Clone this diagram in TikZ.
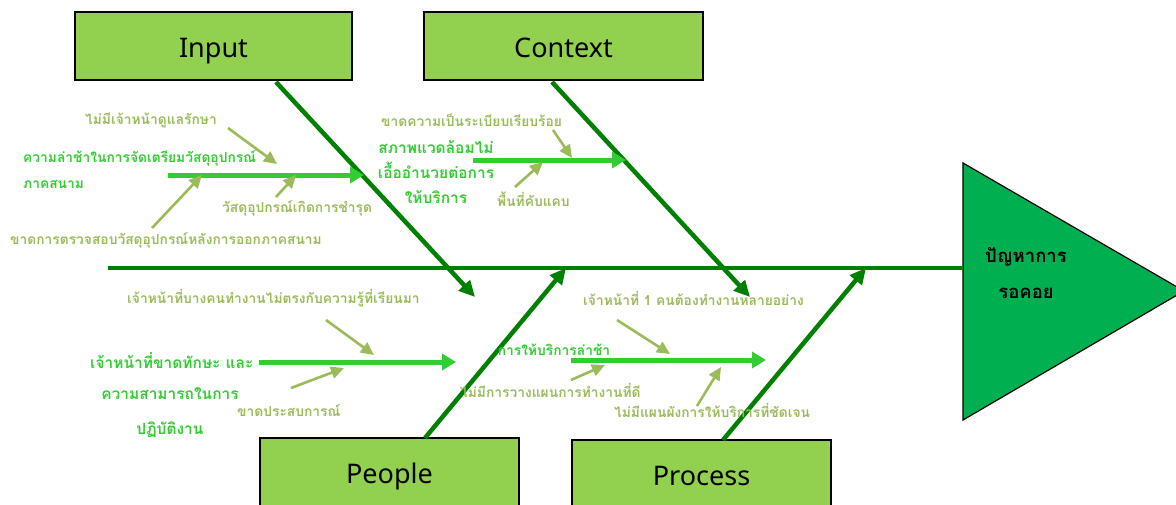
\documentclass[tikz,border=0pt]{standalone}
\usepackage{fontspec}
\setmainfont{Noto Sans}
\newfontfamily\thaifont[Script=Thai]{Loma}
\usetikzlibrary{arrows.meta,positioning,calc}
\definecolor{boxgreen}{HTML}{92D050}
\definecolor{bonegreen}{HTML}{008000}
\definecolor{limegreen}{HTML}{33CC33}
\definecolor{olivegreen}{HTML}{9BBB59}
\definecolor{headgreen}{HTML}{00B050}

\begin{document}
\begin{tikzpicture}[
  x=1pt,y=-1pt,
  font=\thaifont\fontsize{13.6}{16}\selectfont,
  >=Stealth,
  cat/.style={draw=black,line width=1.2pt,fill=boxgreen,minimum height=68pt,text height=28pt,text depth=6pt,font=\fontsize{27}{30}\selectfont},
  bone/.style={draw=bonegreen,line width=4.5pt,-{Triangle[length=16pt,width=15pt]}},
  sub/.style={draw=limegreen,line width=5pt,-{Triangle[length=14pt,width=16pt]}},
  cause/.style={draw=olivegreen,line width=2.6pt,-{Triangle[length=13pt,width=12pt]}},
  main/.style={text=limegreen,font=\thaifont\bfseries\fontsize{13.8}{16}\selectfont,inner sep=0pt},
  bigmain/.style={main,font=\thaifont\bfseries\fontsize{15.5}{18}\selectfont},
  minor/.style={text=olivegreen,font=\thaifont\bfseries\fontsize{13.8}{16}\selectfont,inner sep=0pt,anchor=west},
]
\useasboundingbox (0,0) rectangle (1176,504);

% head of the fish
\draw[fill=headgreen,line width=1.2pt] (963,163) -- (1184,291) -- (963,420) -- cycle;
\node[font=\thaifont\bfseries\fontsize{18.5}{22}\selectfont,align=center] (effect) at (1026,273)
  {ปัญหาการ\\[14pt]รอคอย};

% spine
\coordinate (tail) at (108,268);
\coordinate (head) at (963,268);
\draw[draw=bonegreen,line width=4.5pt] (tail) -- (head);

% category boxes
\node[cat,minimum width=277pt] (input) at (213.5,46) {Input};
\node[cat,minimum width=279pt] (context) at (563.5,46) {Context};
\node[cat,minimum width=259pt] (people) at (389.5,472) {People};
\node[cat,minimum width=259pt] (process) at (701.5,474) {Process};

% bones
\coordinate (in1) at (276,82);   \coordinate (in2) at (475,297);
\coordinate (co1) at (552,82);   \coordinate (co2) at (750,297);
\coordinate (pe1) at (425,438);  \coordinate (pe2) at (566,268);
\coordinate (pr1) at (723,440);  \coordinate (pr2) at (866,268);
\draw[bone] (in1) -- (in2);
\draw[bone] (co1) -- (co2);
\draw[bone] (pe1) -- (pe2);
\draw[bone] (pr1) -- (pr2);

% input
\node[main,anchor=west] (inmain) at (23,158) {ความล่าช้าในการจัดเตรียมวัสดุอุปกรณ์};
\node[main,anchor=west] (inmain2) at (23,184) {ภาคสนาม};
\coordinate (ins1) at (168,175); \coordinate (ins2) at (364,175);
\draw[sub] (ins1) -- (ins2);
\node[minor] (inc1) at (85,120) {ไม่มีเจ้าหน้าดูแลรักษา};
\node[minor] (inc2) at (222,208) {วัสดุอุปกรณ์เกิดการชำรุด};
\node[minor] (inc3) at (10,240) {ขาดการตรวจสอบวัสดุอุปกรณ์หลังการออกภาคสนาม};
\coordinate (ia1) at (228,128); \coordinate (ia2) at (277,164);
\coordinate (ib1) at (276,197); \coordinate (ib2) at (296,175);
\coordinate (ic1) at (152,228); \coordinate (ic2) at (202,175);
\draw[cause] (ia1) -- (ia2);
\draw[cause] (ib1) -- (ib2);
\draw[cause] (ic1) -- (ic2);

% context
\node[bigmain,align=center] (comain) at (436,172) {สภาพแวดล้อมไม่\\[7pt]เอื้ออำนวยต่อการ\\[7pt]ให้บริการ};
\coordinate (cos1) at (473,160); \coordinate (cos2) at (626,160);
\draw[sub] (cos1) -- (cos2);
\node[minor] (coc1) at (381,120) {ขาดความเป็นระเบียบเรียบร้อย};
\node[minor] (coc2) at (497,199) {พื้นที่คับแคบ};
\coordinate (ca1) at (553,130); \coordinate (ca2) at (572,158);
\coordinate (cb1) at (515,187); \coordinate (cb2) at (543,162);
\draw[cause] (ca1) -- (ca2);
\draw[cause] (cb1) -- (cb2);

% people
\node[bigmain,anchor=west] (pemain) at (90,361) {เจ้าหน้าที่ขาดทักษะ และ};
\node[bigmain] (pemain2) at (170,394) {ความสามารถในการ};
\node[bigmain] (pemain3) at (170,430) {ปฏิบัติงาน};
\coordinate (pes1) at (259,362); \coordinate (pes2) at (456,362);
\draw[sub] (pes1) -- (pes2);
\node[minor] (pec1) at (127,298) {เจ้าหน้าที่บางคนทำงานไม่ตรงกับความรู้ที่เรียนมา};
\node[minor] (pec2) at (237,410) {ขาดประสบการณ์};
\coordinate (pa1) at (326,320); \coordinate (pa2) at (374,355);
\coordinate (pb1) at (291,388); \coordinate (pb2) at (344,368);
\draw[cause] (pa1) -- (pa2);
\draw[cause] (pb1) -- (pb2);

% process
\node[main] (prmain) at (554,350) {การให้บริการล่าช้า};
\coordinate (prs1) at (571,360); \coordinate (prs2) at (766,360);
\draw[sub] (prs1) -- (prs2);
\node[minor] (prc1) at (583,298) {เจ้าหน้าที่ 1 คนต้องทำงานหลายอย่าง};
\node[minor] (prc2) at (460,390) {ไม่มีการวางแผนการทำงานที่ดี};
\node[minor] (prc3) at (614,410) {ไม่มีแผนผังการให้บริการที่ชัดเจน};
\coordinate (pra1) at (617,320); \coordinate (pra2) at (670,354);
\coordinate (prb1) at (571,380); \coordinate (prb2) at (605,365);
\coordinate (prc1a) at (697,406); \coordinate (prc2a) at (721,367);
\draw[cause] (pra1) -- (pra2);
\draw[cause] (prb1) -- (prb2);
\draw[cause] (prc1a) -- (prc2a);
\end{tikzpicture}
\end{document}
